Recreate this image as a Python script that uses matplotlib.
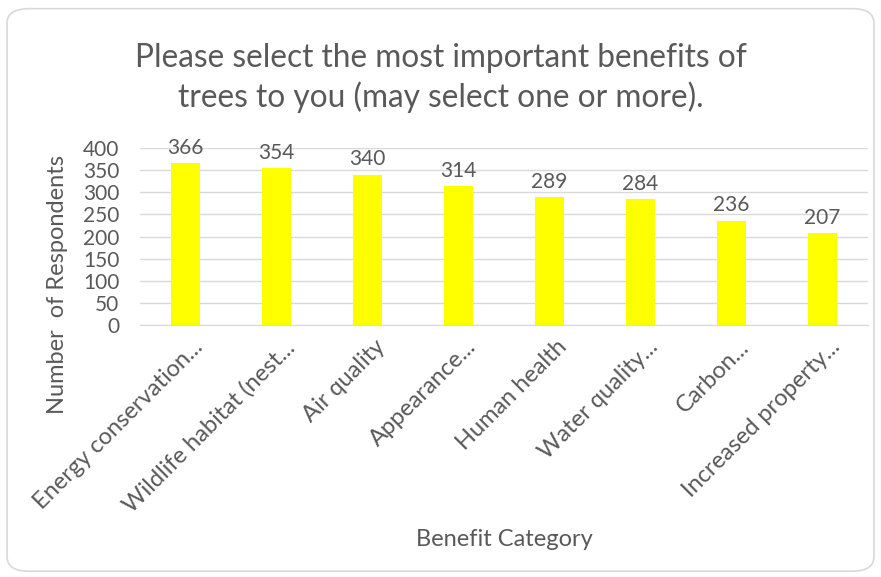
import matplotlib.pyplot as plt
from matplotlib.patches import FancyBboxPatch
from matplotlib.transforms import ScaledTranslation

plt.rcParams['font.family'] = ['Lato', 'DejaVu Sans']

categories = ['Energy conservation...', 'Wildlife habitat (nest...', 'Air quality', 'Appearance...',
              'Human health', 'Water quality...', 'Carbon...', 'Increased property...']
counts = [366, 354, 340, 314, 289, 284, 236, 207]
yticks = [0, 50, 100, 150, 200, 250, 300, 350, 400]

grey = '#595959'

fig = plt.figure(figsize=(8.81, 5.77), dpi=100)
# card border
card = FancyBboxPatch((0.008, 0.01), 0.984, 0.975, boxstyle='round,pad=0,rounding_size=0.025',
                      transform=fig.transFigure, facecolor='white', edgecolor='#d9d9d9', lw=1.2, zorder=-10)
fig.patches.append(card)

ax = fig.add_axes([140 / 881, 0.4367, 728 / 881, 0.3068])
ax.set_facecolor('none')
x = range(len(counts))
bars = ax.bar(x, counts, width=0.31, color='#ffff00', zorder=3)
for b, v in zip(bars, counts):
    ax.text(b.get_x() + b.get_width() / 2, v + 12, str(v), ha='center', va='bottom',
            fontsize=15, color=grey)

ax.set_ylim(0, 400)
ax.set_xlim(-0.5, len(counts) - 0.5)
ax.set_yticks(yticks)
ax.grid(axis='y', color='#d9d9d9', lw=1, zorder=0)
for s in ['top', 'right', 'left']:
    ax.spines[s].set_visible(False)
ax.spines['bottom'].set_color('#d9d9d9')
ax.tick_params(axis='both', length=0, colors=grey, labelsize=15)
ax.tick_params(axis='y', pad=15)
ax.set_xticks(list(x))
ax.set_xticklabels(categories, rotation=45, ha='right', rotation_mode='anchor', fontsize=17, color=grey)
ax.tick_params(axis='x', pad=8)
shift = ScaledTranslation(0.07, 0, fig.dpi_scale_trans)
for lab in ax.get_xticklabels():
    lab.set_transform(lab.get_transform() + shift)

ax.set_ylabel('Number  of Respondents', fontsize=17, color=grey)
ax.yaxis.set_label_coords(-0.099, 0.23)
ax.set_xlabel('Benefit Category', fontsize=17, color=grey, labelpad=9)

fig.text(0.5, 0.865, 'Please select the most important benefits of\ntrees to you (may select one or more).',
         ha='center', va='center', fontsize=22.8, color=grey, linespacing=1.35)

fig.savefig('out.png', dpi=100)
